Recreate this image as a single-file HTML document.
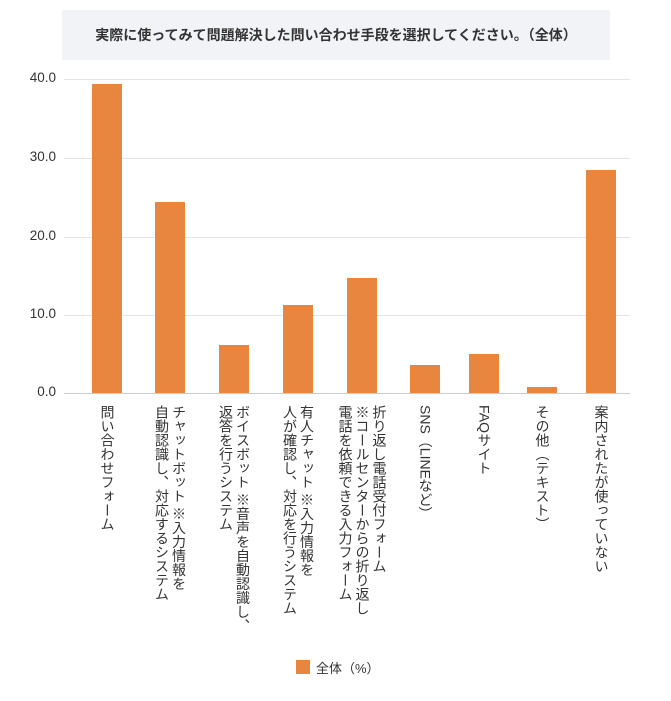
<!DOCTYPE html>
<html><head><meta charset="utf-8"><style>
body{margin:0;width:671px;height:701px;background:#fff;position:relative;font-family:"Liberation Sans","Noto Sans CJK JP",sans-serif;color:#333;overflow:hidden}
.t{position:absolute;left:62px;top:10px;width:548px;height:50px;background:#f1f3f7;font-weight:bold;font-size:14px;line-height:50px;text-align:center;color:#333}
.g{position:absolute;left:64px;width:566px;height:1px;background:#e4e4e4}
.yl{position:absolute;left:18px;width:38px;text-align:right;font-size:13.5px;color:#333}
.b{position:absolute;width:30px;background:#e8863f}
.l{position:absolute;top:405px;writing-mode:vertical-rl;font-size:14px;line-height:17px;transform:translateX(-50%);white-space:nowrap;color:#333}
</style></head><body>
<div class="t">実際に使ってみて問題解決した問い合わせ手段を選択してください。（全体）</div>
<div class="g" style="top:79px"></div><div class="g" style="top:158px"></div><div class="g" style="top:237px"></div><div class="g" style="top:315px"></div><div class="g" style="top:393px;background:#ccc"></div>
<div class="yl" style="top:70px">40.0</div><div class="yl" style="top:149px">30.0</div><div class="yl" style="top:228px">20.0</div><div class="yl" style="top:306px">10.0</div><div class="yl" style="top:384px">0.0</div>
<div class="b" style="left:92px;top:84px;height:309px"></div>
<div class="b" style="left:155px;top:202px;height:191px"></div>
<div class="b" style="left:219px;top:345px;height:48px"></div>
<div class="b" style="left:283px;top:305px;height:88px"></div>
<div class="b" style="left:347px;top:278px;height:115px"></div>
<div class="b" style="left:410px;top:365px;height:28px"></div>
<div class="b" style="left:469px;top:354px;height:39px"></div>
<div class="b" style="left:527px;top:387px;height:6px"></div>
<div class="b" style="left:586px;top:170px;height:223px"></div>
<div class="l" style="left:107px">問い合わせフォーム</div>
<div class="l" style="left:170px">チャットボット ※入力情報を<br>自動認識し、対応するシステム</div>
<div class="l" style="left:234px">ボイスボット ※音声を自動認識し、<br>返答を行うシステム</div>
<div class="l" style="left:298px">有人チャット ※入力情報を<br>人が確認し、対応を行うシステム</div>
<div class="l" style="left:362px">折り返し電話受付フォーム<br>※コールセンターからの折り返し<br>電話を依頼できる入力フォーム</div>
<div class="l" style="left:425px">SNS（LINEなど）</div>
<div class="l" style="left:484px">FAQサイト</div>
<div class="l" style="left:542px">その他（テキスト）</div>
<div class="l" style="left:601px">案内されたが使っていない</div>
<div style="position:absolute;left:296px;top:660px;width:14px;height:14px;background:#e8863f"></div>
<div style="position:absolute;left:316px;top:658px;font-size:13px">全体（%）</div>
</body></html>
